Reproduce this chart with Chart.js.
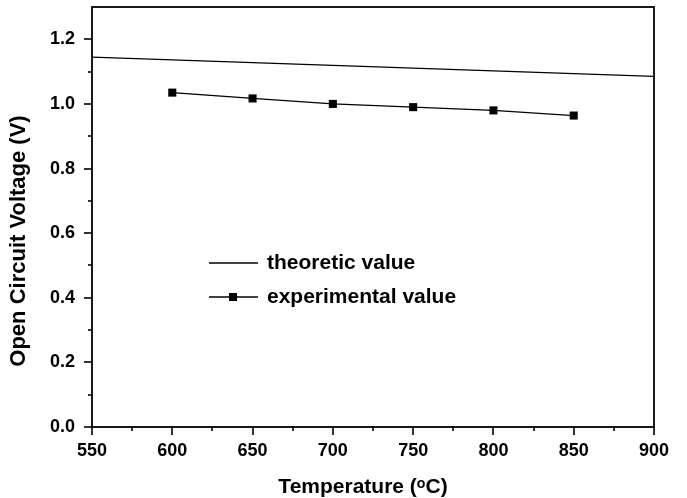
<!DOCTYPE html>
<html>
<head>
<meta charset="utf-8">
<script src="https://cdn.jsdelivr.net/npm/chart.js@4/dist/chart.umd.min.js"></script>
<style>
  html, body { margin: 0; padding: 0; background: #fff; }
  #wrap { width: 687px; height: 498px; }
</style>
</head>
<body>
<div id="wrap"><canvas id="grafico"></canvas></div>
<script>
// dados
const tempTeorica = [550, 900];
const vTeorica = [1.145, 1.085];
const tempExp = [600, 650, 700, 750, 800, 850];
const vExp = [1.035, 1.017, 1.0, 0.99, 0.98, 0.964];
const xTicks = [550, 600, 650, 700, 750, 800, 850, 900];
const yTicks = [0.0, 0.2, 0.4, 0.6, 0.8, 1.0, 1.2];
const tituloX = "Temperature (ᵒC)";
const tituloY = "Open Circuit Voltage (V)";

const fonte = "'Liberation Sans', Arial, sans-serif";

// eixos: ticks para fora (maiores e menores), caixa completa, títulos e legenda interna
const moldura = {
  id: "moldura",
  afterDraw(chart) {
    const ctx = chart.ctx;
    const a = chart.chartArea;
    const sx = chart.scales.x;
    const sy = chart.scales.y;
    ctx.save();
    ctx.strokeStyle = "#000";
    ctx.lineWidth = 1.8;
    ctx.strokeRect(a.left, a.top, a.right - a.left, a.bottom - a.top);

    ctx.lineWidth = 1.6;
    for (let v = 550; v <= 900; v += 25) {
      const px = Math.round(sx.getPixelForValue(v));
      const len = (v % 50 === 0) ? 8 : 4;
      ctx.beginPath();
      ctx.moveTo(px, a.bottom);
      ctx.lineTo(px, a.bottom + len);
      ctx.stroke();
    }
    for (let i = 0; i <= 12; i++) {
      const py = Math.round(sy.getPixelForValue(i / 10));
      const len = (i % 2 === 0) ? 8 : 4;
      ctx.beginPath();
      ctx.moveTo(a.left, py);
      ctx.lineTo(a.left - len, py);
      ctx.stroke();
    }

    ctx.fillStyle = "#000";
    ctx.textAlign = "center";
    ctx.textBaseline = "middle";
    ctx.font = "bold 21px " + fonte;
    ctx.fillText(tituloX, 363, 487);
    ctx.save();
    ctx.translate(19, 241);
    ctx.rotate(-Math.PI / 2);
    ctx.font = "bold 22px " + fonte;
    ctx.fillText(tituloY, 0, 0);
    ctx.restore();

    // legenda
    ctx.font = "bold 21px " + fonte;
    ctx.textAlign = "left";
    const itens = chart.data.datasets;
    itens.forEach((d, i) => {
      const y = 263 + i * 34;
      ctx.lineWidth = 1.3;
      ctx.beginPath();
      ctx.moveTo(209, y);
      ctx.lineTo(258, y);
      ctx.stroke();
      if (d.pointRadius > 0) {
        ctx.fillRect(229, y - 4, 8, 8);
      }
      ctx.fillText(d.label, 267, y);
    });
    ctx.restore();
  }
};

new Chart(document.getElementById("grafico"), {
  type: "line",
  data: {
    datasets: [
      {
        label: "theoretic value",
        data: tempTeorica.map((t, i) => ({ x: t, y: vTeorica[i] })),
        borderColor: "#000",
        borderWidth: 1.3,
        pointRadius: 0,
        fill: false
      },
      {
        label: "experimental value",
        data: tempExp.map((t, i) => ({ x: t, y: vExp[i] })),
        borderColor: "#000",
        backgroundColor: "#000",
        borderWidth: 1.3,
        pointStyle: "rect",
        pointRadius: 5.7,
        pointBorderWidth: 0,
        fill: false
      }
    ]
  },
  options: {
    responsive: true,
    maintainAspectRatio: false,
    animation: false,
    layout: { padding: { top: 7, right: 33, left: 0, bottom: 0 } },
    plugins: {
      legend: { display: false },
      tooltip: { enabled: false }
    },
    scales: {
      x: {
        type: "linear",
        min: 550,
        max: 900,
        afterBuildTicks: (s) => { s.ticks = xTicks.map(v => ({ value: v })); },
        afterFit: (s) => { s.height = 71; s.paddingLeft = 0; s.paddingRight = 0; },
        grid: { display: false, drawTicks: false },
        border: { display: false },
        ticks: {
          padding: 13,
          color: "#000",
          maxRotation: 0,
          font: { family: fonte, size: 18, weight: "bold" }
        }
      },
      y: {
        type: "linear",
        min: 0,
        max: 1.3,
        afterBuildTicks: (s) => { s.ticks = yTicks.map(v => ({ value: v })); },
        afterFit: (s) => { s.width = 92; s.paddingTop = 0; s.paddingBottom = 0; },
        grid: { display: false, drawTicks: false },
        border: { display: false },
        ticks: {
          padding: 17,
          color: "#000",
          callback: (v) => v.toFixed(1),
          font: { family: fonte, size: 18, weight: "bold" }
        }
      }
    }
  },
  plugins: [moldura]
});
</script>
</body>
</html>
